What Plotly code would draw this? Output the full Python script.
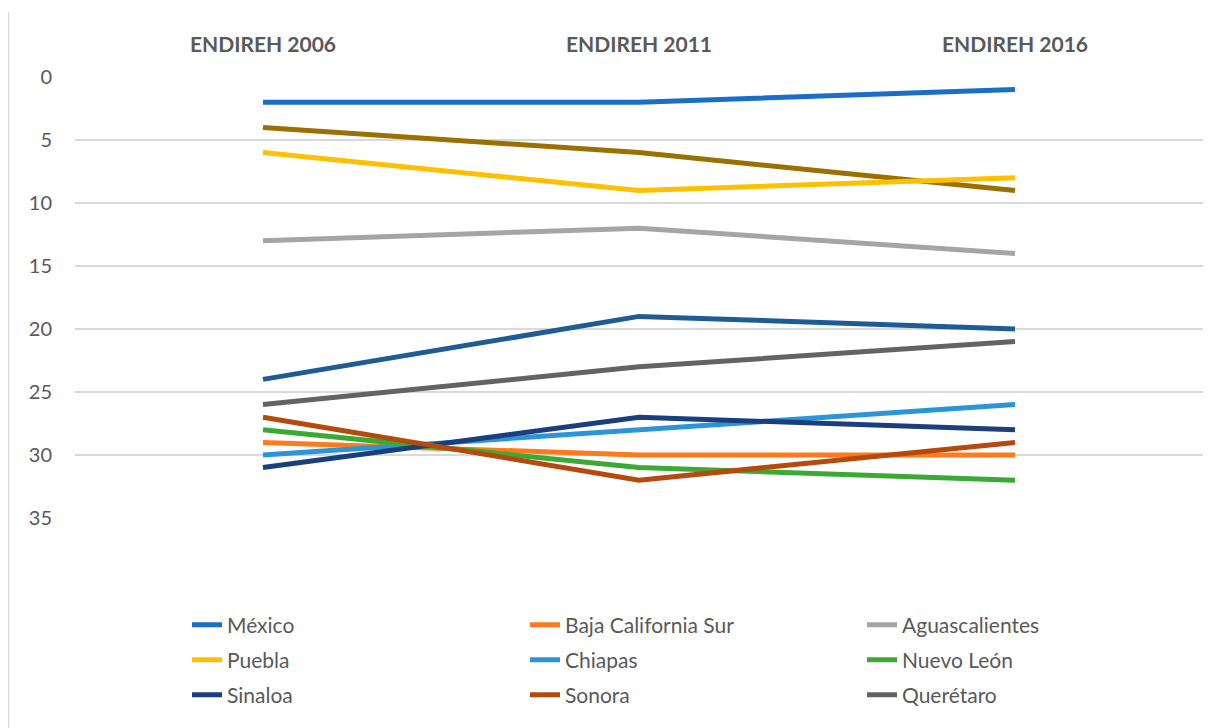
import plotly.graph_objects as go

categories = ["ENDIREH 2006", "ENDIREH 2011", "ENDIREH 2016"]
y_ticks = [0, 5, 10, 15, 20, 25, 30, 35]

mexico = [2, 2, 1]
baja_california_sur = [29, 30, 30]
aguascalientes = [13, 12, 14]
puebla = [6, 9, 8]
chiapas = [30, 28, 26]
nuevo_leon = [28, 31, 32]
sinaloa = [31, 27, 28]
sonora = [27, 32, 29]
queretaro = [26, 23, 21]
unlabeled_gold = [4, 6, 9]
unlabeled_blue = [24, 19, 20]

# (name, values, color, show in legend)
series = [
    ("unlabeled_gold", unlabeled_gold, "#9a7100", False),
    ("unlabeled_blue", unlabeled_blue, "#1e5c96", False),
    ("México", mexico, "#1a6ec8", True),
    ("Baja California Sur", baja_california_sur, "#ff7a1c", True),
    ("Aguascalientes", aguascalientes, "#a5a5a5", True),
    ("Puebla", puebla, "#ffc000", True),
    ("Chiapas", chiapas, "#2a95d8", True),
    ("Nuevo León", nuevo_leon, "#3aaa35", True),
    ("Sinaloa", sinaloa, "#1b3f7c", True),
    ("Sonora", sonora, "#b54a0c", True),
    ("Querétaro", queretaro, "#636363", True),
]

# page body has an 8px margin: figure pixel = screen pixel - 8
OFF = 8
W, H = 1221 - OFF, 728 - OFF
ml, mr, mt = 75 - OFF, 18, 77 - OFF
mb = H - (518 - OFF)
pw = W - ml - mr
ph = H - mt - mb

def py(screen_pix):
    return (H - mb - (screen_pix - OFF)) / ph

def px(screen_pix):
    return ((screen_pix - OFF) - ml) / pw

text_color = "#595959"
font_family = "Lato, Open Sans, sans-serif"

col_left = [187, 525, 862]
row_y = [625, 660, 695]

fig = go.Figure()
legends = {}
k = 0
for name, vals, color, show in series:
    if show:
        lname = "legend" if k == 0 else f"legend{k + 1}"
        legends[lname] = dict(
            x=px(col_left[k % 3]), y=py(row_y[k // 3]),
            xanchor="left", yanchor="middle", orientation="h",
            font=dict(size=21, color=text_color, family=font_family),
            bgcolor="rgba(0,0,0,0)")
        kw = dict(legend=lname)
        k += 1
    else:
        kw = dict(showlegend=False)
    fig.add_trace(go.Scatter(
        x=categories, y=vals, mode="lines", name=name,
        line=dict(color=color, width=5), **kw))

fig.update_layout(
    width=W, height=H,
    margin=dict(l=ml, r=mr, t=mt, b=mb, autoexpand=False),
    paper_bgcolor="white", plot_bgcolor="white",
    font=dict(family=font_family, color=text_color),
    xaxis=dict(side="top", showgrid=False, zeroline=False, showline=False,
               range=[-0.5, 2.5], ticklabelstandoff=20, automargin=False,
               tickfont=dict(size=21, color=text_color, family="Lato", weight="bold")),
    yaxis=dict(range=[35, 0], tickvals=y_ticks, showgrid=True,
               gridcolor="#d9d9d9", gridwidth=1.5, zeroline=False,
               showline=False, ticklabelstandoff=22, automargin=False,
               tickfont=dict(size=20, color=text_color)),
    shapes=[dict(type="line", xref="paper", yref="paper",
                 x0=px(8.5), x1=px(8.5), y0=py(12), y1=py(728),
                 line=dict(color="#d9d9d9", width=1.5))],
    **legends,
)

fig.write_html("out.html")
